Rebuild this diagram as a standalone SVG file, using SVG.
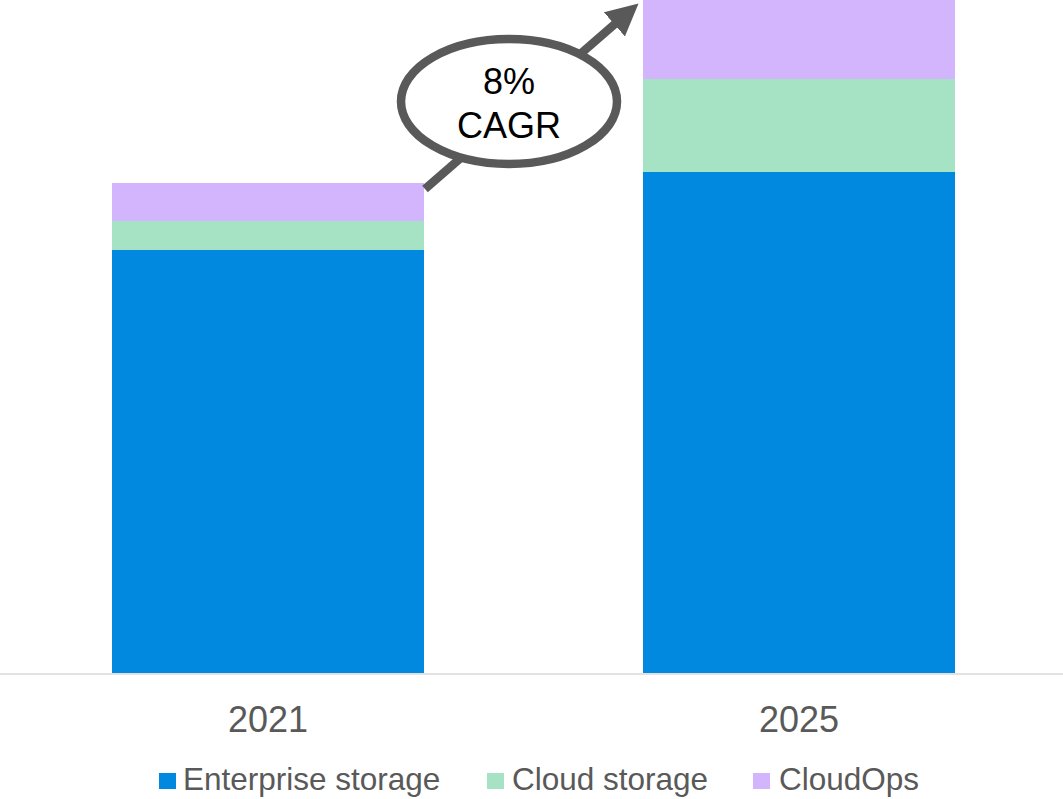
<svg xmlns="http://www.w3.org/2000/svg" width="1063" height="799" viewBox="0 0 1063 799">
  <style>
    .ent { fill: #0089DE; }
    .cld { fill: #A5E3C4; }
    .ops { fill: #D3B5FE; }
    .axis-label { font-family: "Liberation Sans", Arial, sans-serif; font-size: 36px; fill: #595959; text-anchor: middle; }
    .legend-label { font-family: "Liberation Sans", Arial, sans-serif; font-size: 31.5px; fill: #595959; }
    .callout-text { font-family: "Liberation Sans", Arial, sans-serif; font-size: 36px; fill: #000; text-anchor: middle; }
  </style>
  <defs>
    <marker id="arrowhead" markerUnits="userSpaceOnUse" markerWidth="32" markerHeight="32" viewBox="0 0 30 30" refX="2" refY="15" orient="auto">
      <path d="M0,0 L30,15 L0,30 Z" fill="#595959"/>
    </marker>
  </defs>

  <rect width="1063" height="799" fill="#ffffff"/>

  <!-- 2021 stacked bar -->
  <g id="bar-2021">
    <rect class="ent" x="112" y="250" width="312" height="423"/>
    <rect class="cld" x="112" y="221" width="312" height="29"/>
    <rect class="ops" x="112" y="183" width="312" height="38"/>
  </g>

  <!-- 2025 stacked bar -->
  <g id="bar-2025">
    <rect class="ent" x="643" y="172" width="312" height="501"/>
    <rect class="cld" x="643" y="79" width="312" height="93"/>
    <rect class="ops" x="643" y="0" width="312" height="79"/>
  </g>

  <!-- category axis -->
  <g id="axis">
    <line x1="0" y1="674" x2="1063" y2="674" stroke="#D9D9D9" stroke-width="1.5"/>
    <text class="axis-label" x="268" y="732">2021</text>
    <text class="axis-label" x="799" y="732">2025</text>
  </g>

  <!-- growth arrow -->
  <g id="connectors">
    <line x1="425" y1="189" x2="616" y2="23" stroke="#595959" stroke-width="8.5" marker-end="url(#arrowhead)"/>
  </g>

  <!-- CAGR callout -->
  <g id="cagr-callout">
    <ellipse cx="509" cy="101.5" rx="108" ry="62.5" fill="#ffffff" stroke="#595959" stroke-width="8.5"/>
    <text class="callout-text" x="509" y="94">8%</text>
    <text class="callout-text" x="509" y="138">CAGR</text>
  </g>

  <!-- legend -->
  <g id="legend">
    <rect class="ent" x="159" y="773" width="17" height="16"/>
    <text class="legend-label" x="183" y="790">Enterprise storage</text>
    <rect class="cld" x="487" y="773" width="17" height="16"/>
    <text class="legend-label" x="512" y="790">Cloud storage</text>
    <rect class="ops" x="753" y="773" width="17" height="16"/>
    <text class="legend-label" x="779" y="790">CloudOps</text>
  </g>
</svg>
